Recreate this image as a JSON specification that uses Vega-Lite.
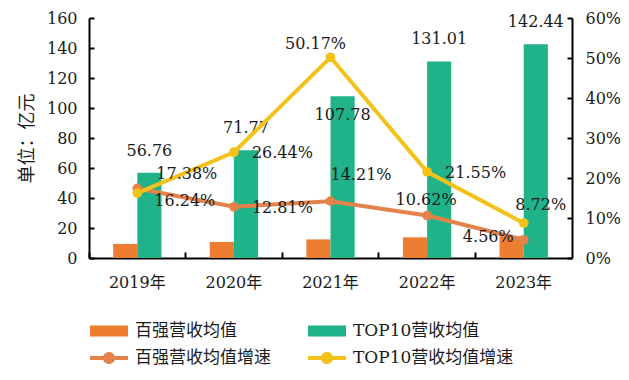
{
  "$schema": "https://vega.github.io/schema/vega-lite/v6.json",
  "width": 483,
  "height": 240,
  "autosize": {"type": "none"},
  "padding": {"left": 89, "top": 18, "right": 57, "bottom": 122},
  "background": "white",
  "datasets": {
    "bars": [
      {"year": "2019年", "series": "百强营收均值", "value": 9.4},
      {"year": "2019年", "series": "TOP10营收均值", "value": 56.76},
      {"year": "2020年", "series": "百强营收均值", "value": 10.7},
      {"year": "2020年", "series": "TOP10营收均值", "value": 71.77},
      {"year": "2021年", "series": "百强营收均值", "value": 12.4},
      {"year": "2021年", "series": "TOP10营收均值", "value": 107.78},
      {"year": "2022年", "series": "百强营收均值", "value": 13.8},
      {"year": "2022年", "series": "TOP10营收均值", "value": 131.01},
      {"year": "2023年", "series": "百强营收均值", "value": 14.5},
      {"year": "2023年", "series": "TOP10营收均值", "value": 142.44}
    ],
    "rates": [
      {"year": "2019年", "series": "百强营收均值增速", "rate": 0.1738},
      {"year": "2020年", "series": "百强营收均值增速", "rate": 0.1281},
      {"year": "2021年", "series": "百强营收均值增速", "rate": 0.1421},
      {"year": "2022年", "series": "百强营收均值增速", "rate": 0.1062},
      {"year": "2023年", "series": "百强营收均值增速", "rate": 0.0456},
      {"year": "2019年", "series": "TOP10营收均值增速", "rate": 0.1624},
      {"year": "2020年", "series": "TOP10营收均值增速", "rate": 0.2644},
      {"year": "2021年", "series": "TOP10营收均值增速", "rate": 0.5017},
      {"year": "2022年", "series": "TOP10营收均值增速", "rate": 0.2155},
      {"year": "2023年", "series": "TOP10营收均值增速", "rate": 0.0872}
    ]
  },
  "config": {
    "view": {"stroke": null},
    "axis": {
      "domainColor": "#000000",
      "domainWidth": 2,
      "tickColor": "#000000",
      "tickWidth": 2,
      "labelFont": "DejaVu Serif, Noto Sans CJK SC",
      "labelFontSize": 16,
      "labelColor": "#1a1a1a",
      "grid": false
    }
  },
  "layer": [
    {
      "data": {"name": "bars"},
      "encoding": {
        "x": {
          "field": "year",
          "type": "nominal",
          "scale": {"paddingInner": 0, "paddingOuter": 0},
          "axis": {"title": null, "labelAngle": 0, "bandPosition": 0, "tickSize": -6, "labelPadding": 22}
        },
        "y": {
          "field": "value",
          "type": "quantitative",
          "scale": {"domain": [0, 160], "nice": false},
          "axis": {
            "orient": "left",
            "values": [0, 20, 40, 60, 80, 100, 120, 140, 160],
            "tickSize": -5,
            "labelPadding": 17,
            "title": "单位：亿元",
            "titleFont": "Noto Sans CJK SC",
            "titleFontSize": 18,
            "titleFontWeight": "normal",
            "titleColor": "#1a1a1a",
            "titlePadding": 10
          }
        },
        "xOffset": {
          "field": "series",
          "type": "nominal",
          "sort": ["百强营收均值", "TOP10营收均值"],
          "scale": {"paddingInner": 0, "paddingOuter": 1.1}
        }
      },
      "layer": [
        {
          "mark": {"type": "bar"},
          "encoding": {
            "color": {
              "field": "series",
              "type": "nominal",
              "scale": {
                "domain": ["百强营收均值", "百强营收均值增速", "TOP10营收均值", "TOP10营收均值增速"],
                "range": ["#ED7D31", "#E4824A", "#20B38A", "#F3C219"]
              },
              "legend": {
                "title": null,
                "orient": "none",
                "legendX": 1,
                "legendY": 294,
                "columns": 2,
                "columnPadding": 37,
                "rowPadding": -3,
                "symbolSize": 1444,
                "labelFont": "DejaVu Serif, Noto Sans CJK SC",
                "labelFontSize": 17,
                "labelColor": "#1a1a1a",
                "labelOffset": 7,
                "labelLimit": 300,
                "encode": {
                  "symbols": {
                    "update": {
                      "shape": {"signal": "indexof(datum.value, '增速') >= 0 ? 'M-1,-0.1H1V0.1H-1Z M-0.32,0A0.32,0.32 0 1,1 0.32,0A0.32,0.32 0 1,1 -0.32,0Z' : 'M-1,-0.29H1V0.29H-1Z'"},
                      "fill": {"scale": "color", "field": "value"},
                      "strokeWidth": {"value": 0},
                      "opacity": {"value": 1}
                    }
                  }
                }
              }
            }
          }
        },
        {
          "transform": [{"filter": "datum.series == 'TOP10营收均值' && datum.year != '2021年'"}],
          "mark": {"type": "text", "font": "DejaVu Serif", "fontSize": 16, "color": "#1a1a1a", "baseline": "middle", "dy": -22},
          "encoding": {"text": {"field": "value", "type": "quantitative", "format": ".2f"}}
        },
        {
          "transform": [{"filter": "datum.series == 'TOP10营收均值' && datum.year == '2021年'"}],
          "mark": {"type": "text", "font": "DejaVu Serif", "fontSize": 16, "color": "#1a1a1a", "baseline": "middle", "dy": 19},
          "encoding": {"text": {"field": "value", "type": "quantitative", "format": ".2f"}}
        }
      ]
    },
    {
      "data": {"name": "rates"},
      "encoding": {
        "x": {
          "field": "year",
          "type": "nominal",
          "axis": {"title": null, "labelAngle": 0, "bandPosition": 0, "tickSize": -6, "labelPadding": 22}
        },
        "y": {
          "field": "rate",
          "type": "quantitative",
          "scale": {"domain": [0, 0.6], "nice": false},
          "axis": {
            "orient": "right",
            "values": [0, 0.1, 0.2, 0.3, 0.4, 0.5, 0.6],
            "format": ".0%",
            "tickSize": -5,
            "labelPadding": 18,
            "title": null
          }
        }
      },
      "layer": [
        {
          "mark": {"type": "line", "strokeWidth": 4},
          "encoding": {"color": {"field": "series", "type": "nominal"}}
        },
        {
          "mark": {"type": "point", "filled": true, "size": 95, "opacity": 1},
          "encoding": {"color": {"field": "series", "type": "nominal"}}
        },
        {
          "transform": [{"filter": "(datum.series == '百强营收均值增速' && datum.year == '2020年') || (datum.series == 'TOP10营收均值增速' && (datum.year == '2020年' || datum.year == '2022年'))"}],
          "mark": {"type": "text", "font": "DejaVu Serif", "fontSize": 16, "color": "#1a1a1a", "align": "left", "baseline": "middle", "dx": 18, "dy": 1},
          "encoding": {"text": {"field": "rate", "type": "quantitative", "format": ".2%"}}
        },
        {
          "transform": [{"filter": "datum.series == '百强营收均值增速' && datum.year == '2019年'"}],
          "mark": {"type": "text", "font": "DejaVu Serif", "fontSize": 16, "color": "#1a1a1a", "align": "left", "baseline": "middle", "dx": 19, "dy": -14},
          "encoding": {"text": {"field": "rate", "type": "quantitative", "format": ".2%"}}
        },
        {
          "transform": [{"filter": "datum.series == 'TOP10营收均值增速' && datum.year == '2019年'"}],
          "mark": {"type": "text", "font": "DejaVu Serif", "fontSize": 16, "color": "#1a1a1a", "align": "left", "baseline": "middle", "dx": 17, "dy": 8},
          "encoding": {"text": {"field": "rate", "type": "quantitative", "format": ".2%"}}
        },
        {
          "transform": [{"filter": "datum.series == '百强营收均值增速' && datum.year == '2021年'"}],
          "mark": {"type": "text", "font": "DejaVu Serif", "fontSize": 16, "color": "#1a1a1a", "align": "left", "baseline": "middle", "dx": 0, "dy": -26},
          "encoding": {"text": {"field": "rate", "type": "quantitative", "format": ".2%"}}
        },
        {
          "transform": [{"filter": "datum.series == '百强营收均值增速' && datum.year == '2022年'"}],
          "mark": {"type": "text", "font": "DejaVu Serif", "fontSize": 16, "color": "#1a1a1a", "align": "center", "baseline": "middle", "dx": -1, "dy": -16},
          "encoding": {"text": {"field": "rate", "type": "quantitative", "format": ".2%"}}
        },
        {
          "transform": [{"filter": "datum.series == '百强营收均值增速' && datum.year == '2023年'"}],
          "mark": {"type": "text", "font": "DejaVu Serif", "fontSize": 16, "color": "#1a1a1a", "align": "right", "baseline": "middle", "dx": -10, "dy": -3},
          "encoding": {"text": {"field": "rate", "type": "quantitative", "format": ".2%"}}
        },
        {
          "transform": [{"filter": "datum.series == 'TOP10营收均值增速' && datum.year == '2021年'"}],
          "mark": {"type": "text", "font": "DejaVu Serif", "fontSize": 16, "color": "#1a1a1a", "align": "center", "baseline": "middle", "dx": -15, "dy": -13},
          "encoding": {"text": {"field": "rate", "type": "quantitative", "format": ".2%"}}
        },
        {
          "transform": [{"filter": "datum.series == 'TOP10营收均值增速' && datum.year == '2023年'"}],
          "mark": {"type": "text", "font": "DejaVu Serif", "fontSize": 16, "color": "#1a1a1a", "align": "center", "baseline": "middle", "dx": 17, "dy": -18},
          "encoding": {"text": {"field": "rate", "type": "quantitative", "format": ".2%"}}
        }
      ]
    }
  ],
  "resolve": {"scale": {"y": "independent"}}
}
